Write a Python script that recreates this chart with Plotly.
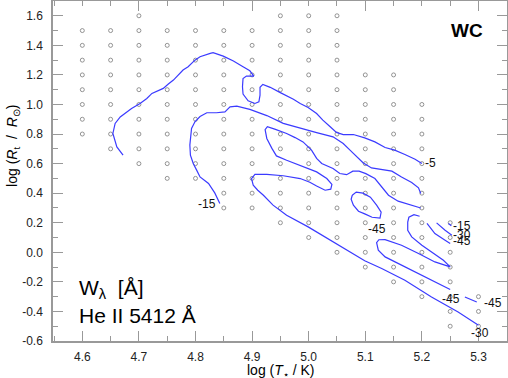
import plotly.graph_objects as go

# ---------------- model grid (log T*, log Rt) ----------------
grid_cols_x = [4.60, 4.65, 4.70, 4.75, 4.80, 4.85, 4.90, 4.95, 5.00, 5.05, 5.10, 5.15, 5.20, 5.25, 5.30]
col_460 = [1.5, 1.4, 1.3, 1.2, 1.1, 1.0, 0.9, 0.8]
col_465 = [1.5, 1.4, 1.3, 1.2, 1.1, 1.0, 0.9, 0.8, 0.7]
col_470 = [1.6, 1.5, 1.4, 1.3, 1.2, 1.1, 1.0, 0.9, 0.8, 0.7, 0.6]
col_475 = [1.5, 1.4, 1.3, 1.2, 1.1, 1.0, 0.9, 0.8, 0.7, 0.6, 0.5]
col_480 = [1.5, 1.4, 1.3, 1.2, 1.1, 1.0, 0.9, 0.8, 0.7, 0.6, 0.5]
col_485 = [1.5, 1.4, 1.3, 1.2, 1.1, 1.0, 0.9, 0.8, 0.7, 0.6, 0.5, 0.4, 0.3]
col_490 = [1.5, 1.4, 1.3, 1.2, 1.1, 1.0, 0.9, 0.8, 0.7, 0.6, 0.5, 0.4, 0.3]
col_495 = [1.6, 1.5, 1.4, 1.3, 1.2, 1.1, 1.0, 0.9, 0.8, 0.7, 0.6, 0.5, 0.4, 0.3, 0.2]
col_500 = [1.6, 1.5, 1.4, 1.3, 1.2, 1.1, 1.0, 0.9, 0.8, 0.7, 0.6, 0.5, 0.4, 0.3, 0.2, 0.1]
col_505 = [1.6, 1.5, 1.4, 1.3, 1.2, 1.1, 1.0, 0.9, 0.8, 0.7, 0.6, 0.5, 0.4, 0.3, 0.2, 0.1, 0.0]
col_510 = [1.2, 1.1, 1.0, 0.9, 0.8, 0.7, 0.6, 0.5, 0.4, 0.3, 0.2, 0.1, 0.0, -0.1]
col_515 = [1.2, 1.1, 1.0, 0.9, 0.8, 0.7, 0.6, 0.5, 0.4, 0.3, 0.2, 0.1, 0.0, -0.1, -0.2]
col_520 = [1.0, 0.9, 0.8, 0.7, 0.6, 0.5, 0.4, 0.3, 0.2, 0.1, 0.0, -0.1, -0.2, -0.3]
col_525 = [0.2, 0.1, 0.0, -0.1, -0.2, -0.3, -0.4, -0.5]
col_530 = [-0.3, -0.4, -0.5]
grid_cols_y = [col_460, col_465, col_470, col_475, col_480, col_485, col_490, col_495,
               col_500, col_505, col_510, col_515, col_520, col_525, col_530]

# ---------------- contours of W_lambda (He II 5412) ----------------
# -5 contour
c5_x = [4.672, 4.661, 4.654, 4.658, 4.667, 4.675, 4.687, 4.702, 4.714, 4.723, 4.734, 4.743, 4.752,
        4.761, 4.778, 4.787, 4.799, 4.808, 4.826, 4.831, 4.849, 4.867, 4.884, 4.896, 4.903, 4.890,
        4.884, 4.883, 4.884, 4.893, 4.905, 4.912, 4.914, 4.914, 4.919, 4.932, 4.949, 4.973, 4.985,
        4.999, 5.014, 5.025, 5.038, 5.049, 5.061, 5.079, 5.099, 5.117, 5.135, 5.152, 5.170, 5.188, 5.200]
c5_y = [0.657, 0.713, 0.804, 0.872, 0.916, 0.939, 0.973, 1.007, 1.041, 1.075, 1.093, 1.109, 1.138,
        1.165, 1.233, 1.255, 1.300, 1.323, 1.346, 1.350, 1.327, 1.294, 1.255, 1.228, 1.192, 1.192,
        1.176, 1.120, 1.070, 1.025, 1.007, 1.018, 1.063, 1.116, 1.136, 1.116, 1.082, 1.036, 1.007,
        0.980, 0.939, 0.894, 0.849, 0.811, 0.796, 0.797, 0.774, 0.747, 0.709, 0.691, 0.662, 0.630, 0.601]

# -15 contour
c15_x = [4.843, 4.834, 4.823, 4.808, 4.802, 4.796, 4.791, 4.790, 4.793, 4.799, 4.808, 4.820, 4.837,
         4.852, 4.861, 4.873, 4.896, 4.926, 4.955, 4.985, 5.014, 5.043, 5.061, 5.073, 5.085, 5.096,
         5.111, 5.129, 5.147, 5.164, 5.182, 5.194, 5.198]
c15_y = [0.330, 0.402, 0.466, 0.510, 0.556, 0.601, 0.657, 0.725, 0.838, 0.883, 0.918, 0.944, 0.944,
         0.950, 0.984, 0.989, 0.967, 0.925, 0.872, 0.838, 0.810, 0.781, 0.736, 0.691, 0.644, 0.606,
         0.571, 0.562, 0.549, 0.510, 0.472, 0.436, 0.398]
c15b_x = [5.247, 5.252]
c15b_y = [0.195, 0.180]

# -30 contour
c30_x = [5.198, 5.176, 5.158, 5.141, 5.129, 5.117, 5.101, 5.089, 5.078, 5.067, 5.055, 5.043, 5.023,
         5.014, 5.005, 4.990, 4.976, 4.961, 4.940, 4.927, 4.923, 4.926, 4.935, 4.943, 4.961, 4.985,
         5.014, 5.032, 5.041, 5.039, 5.029, 5.014, 5.002, 4.985, 4.955, 4.926, 4.905, 4.899, 4.902,
         4.910, 4.920, 4.937, 4.961, 4.999, 5.049, 5.099, 5.129, 5.170, 5.217, 5.264, 5.300]
c30_y = [0.300, 0.323, 0.346, 0.386, 0.443, 0.499, 0.532, 0.549, 0.549, 0.525, 0.533, 0.567, 0.601,
         0.635, 0.691, 0.747, 0.776, 0.804, 0.833, 0.850, 0.830, 0.770, 0.703, 0.652, 0.623, 0.589,
         0.544, 0.499, 0.459, 0.427, 0.420, 0.449, 0.474, 0.499, 0.518, 0.527, 0.527, 0.499, 0.454,
         0.420, 0.386, 0.319, 0.251, 0.172, 0.059, -0.057, -0.110, -0.189, -0.302, -0.404, -0.494]
c30b_x = [5.226, 5.241, 5.253]
c30b_y = [0.199, 0.149, 0.116]

# -45 contours
c45a_x = [5.077, 5.084, 5.096, 5.109, 5.120, 5.128, 5.126, 5.112, 5.100, 5.088, 5.079, 5.075, 5.077]
c45a_y = [0.386, 0.407, 0.400, 0.373, 0.319, 0.271, 0.231, 0.237, 0.258, 0.278, 0.319, 0.359, 0.386]
c45b_x = [5.196, 5.186, 5.177, 5.175, 5.175, 5.182, 5.200, 5.220, 5.238, 5.250, 5.223, 5.194, 5.164,
          5.135, 5.124, 5.120, 5.123, 5.135, 5.164, 5.200, 5.229, 5.250]
c45b_y = [0.244, 0.254, 0.237, 0.204, 0.149, 0.104, 0.048, -0.008, -0.054, -0.099, -0.065, -0.008,
          0.048, 0.086, 0.085, 0.065, 0.014, -0.031, -0.088, -0.155, -0.211, -0.252]
c45c_x = [5.209, 5.223, 5.241, 5.250]
c45c_y = [0.195, 0.127, 0.082, 0.059]
c45d_x = [5.276, 5.297]
c45d_y = [-0.302, -0.336]

contours_x = [c5_x, c15_x, c15b_x, c30_x, c30b_x, c45a_x, c45b_x, c45c_x, c45d_x]
contours_y = [c5_y, c15_y, c15b_y, c30_y, c30b_y, c45a_y, c45b_y, c45c_y, c45d_y]

# contour labels
label_text = ["-5", "-15", "-15", "-30", "-45", "-45", "-45", "-45", "-30"]
label_x = [5.216, 4.820, 5.271, 5.271, 5.271, 5.121, 5.251, 5.326, 5.302]
label_y = [0.601, 0.325, 0.177, 0.116, 0.075, 0.156, -0.318, -0.345, -0.548]

# axis ticks
x_ticks = [4.6, 4.7, 4.8, 4.9, 5.0, 5.1, 5.2, 5.3]
x_tick_text = ["4.6", "4.7", "4.8", "4.9", "5.0", "5.1", "5.2", "5.3"]
y_ticks = [-0.6, -0.4, -0.2, 0.0, 0.2, 0.4, 0.6, 0.8, 1.0, 1.2, 1.4, 1.6]
y_tick_text = ["-0.6", "-0.4", "-0.2", "0.0", "0.2", "0.4", "0.6", "0.8", "1.0", "1.2", "1.4", "1.6"]

FONT = "Liberation Sans, Arial, sans-serif"
LINE_BLUE = "#3b3bff"
FRAME = "#999999"

fig = go.Figure()

for cx, cys in zip(grid_cols_x, grid_cols_y):
    fig.add_trace(go.Scatter(
        x=[cx] * len(cys), y=cys, mode="markers",
        marker=dict(symbol="circle-open", size=4, color="#7a7a7a", line=dict(width=0.8)),
        hoverinfo="skip", showlegend=False))

for xs, ys in zip(contours_x, contours_y):
    fig.add_trace(go.Scatter(
        x=xs, y=ys, mode="lines",
        line=dict(color=LINE_BLUE, width=1.2),
        hoverinfo="skip", showlegend=False))

# invisible trace to carry the top axis
fig.add_trace(go.Scatter(x=[4.6], y=[0.0], xaxis="x2", mode="markers",
                         marker=dict(opacity=0), hoverinfo="skip", showlegend=False))

for t, lx, ly in zip(label_text, label_x, label_y):
    fig.add_annotation(x=lx, y=ly, text=t, showarrow=False,
                       font=dict(family=FONT, size=12, color="#111111"),
                       xanchor="center", yanchor="middle")

fig.add_annotation(x=5.280, y=1.503, text="<b>WC</b>", showarrow=False,
                   font=dict(family=FONT, size=19, color="black"),
                   xanchor="center", yanchor="middle")
fig.add_annotation(x=4.591, y=-0.250, text="W<sub>λ</sub>  [Å]", showarrow=False,
                   font=dict(family=FONT, size=21, color="black"),
                   xanchor="left", yanchor="middle")
fig.add_annotation(x=4.591, y=-0.429, text="He II 5412 Å", showarrow=False,
                   font=dict(family=FONT, size=21, color="black"),
                   xanchor="left", yanchor="middle")

# axis titles
fig.add_annotation(xref="paper", yref="paper", x=-0.088, y=0.574,
                   text="log (<i>R</i><sub>t</sub>  /  <i>R</i><sub>⊙</sub>)",
                   textangle=-90, showarrow=False,
                   font=dict(family=FONT, size=14, color="black"),
                   xanchor="center", yanchor="middle")
fig.add_annotation(xref="paper", yref="paper", x=0.5, y=-0.088,
                   text="log (<i>T</i><sub>⋆</sub> / K)", showarrow=False,
                   font=dict(family=FONT, size=14, color="black"),
                   xanchor="center", yanchor="middle")

fig.update_layout(
    width=508, height=378,
    margin=dict(l=53, r=1, t=1, b=37, autoexpand=False),
    paper_bgcolor="white", plot_bgcolor="white",
    xaxis=dict(range=[4.5482, 5.3504], tickvals=x_ticks, ticktext=x_tick_text,
               ticks="inside", ticklen=10, tickwidth=1, tickcolor=FRAME,
               minor=dict(dtick=0.05, tick0=4.55, ticks="inside", ticklen=5, tickcolor=FRAME),
               showline=True, linecolor=FRAME, linewidth=1.5, mirror=False,
               showgrid=False, zeroline=False, ticklabelstandoff=4, automargin=False,
               tickfont=dict(family=FONT, size=12, color="#222222")),
    xaxis2=dict(range=[4.5482, 5.3504], overlaying="x", side="top", anchor="y",
                tick0=4.7, dtick=0.2, showticklabels=False, automargin=False,
                ticks="inside", ticklen=10, tickwidth=1, tickcolor=FRAME,
                minor=dict(dtick=0.05, tick0=4.55, ticks="inside", ticklen=5, tickcolor=FRAME),
                showline=True, linecolor=FRAME, linewidth=1.5,
                showgrid=False, zeroline=False),
    yaxis=dict(range=[-0.6, 1.70], tickvals=y_ticks, ticktext=y_tick_text,
               ticks="inside", ticklen=10, tickwidth=1, tickcolor=FRAME,
               minor=dict(dtick=0.1, tick0=-0.6, ticks="inside", ticklen=5, tickcolor=FRAME),
               showline=True, linecolor=FRAME, linewidth=1.5, mirror="ticks",
               showgrid=False, zeroline=False, ticklabelstandoff=6, automargin=False,
               tickfont=dict(family=FONT, size=12, color="#222222")),
)

fig.write_html("out.html", config={"displayModeBar": False},
               post_script="document.body.style.margin='0px';document.body.style.padding='0px';")
